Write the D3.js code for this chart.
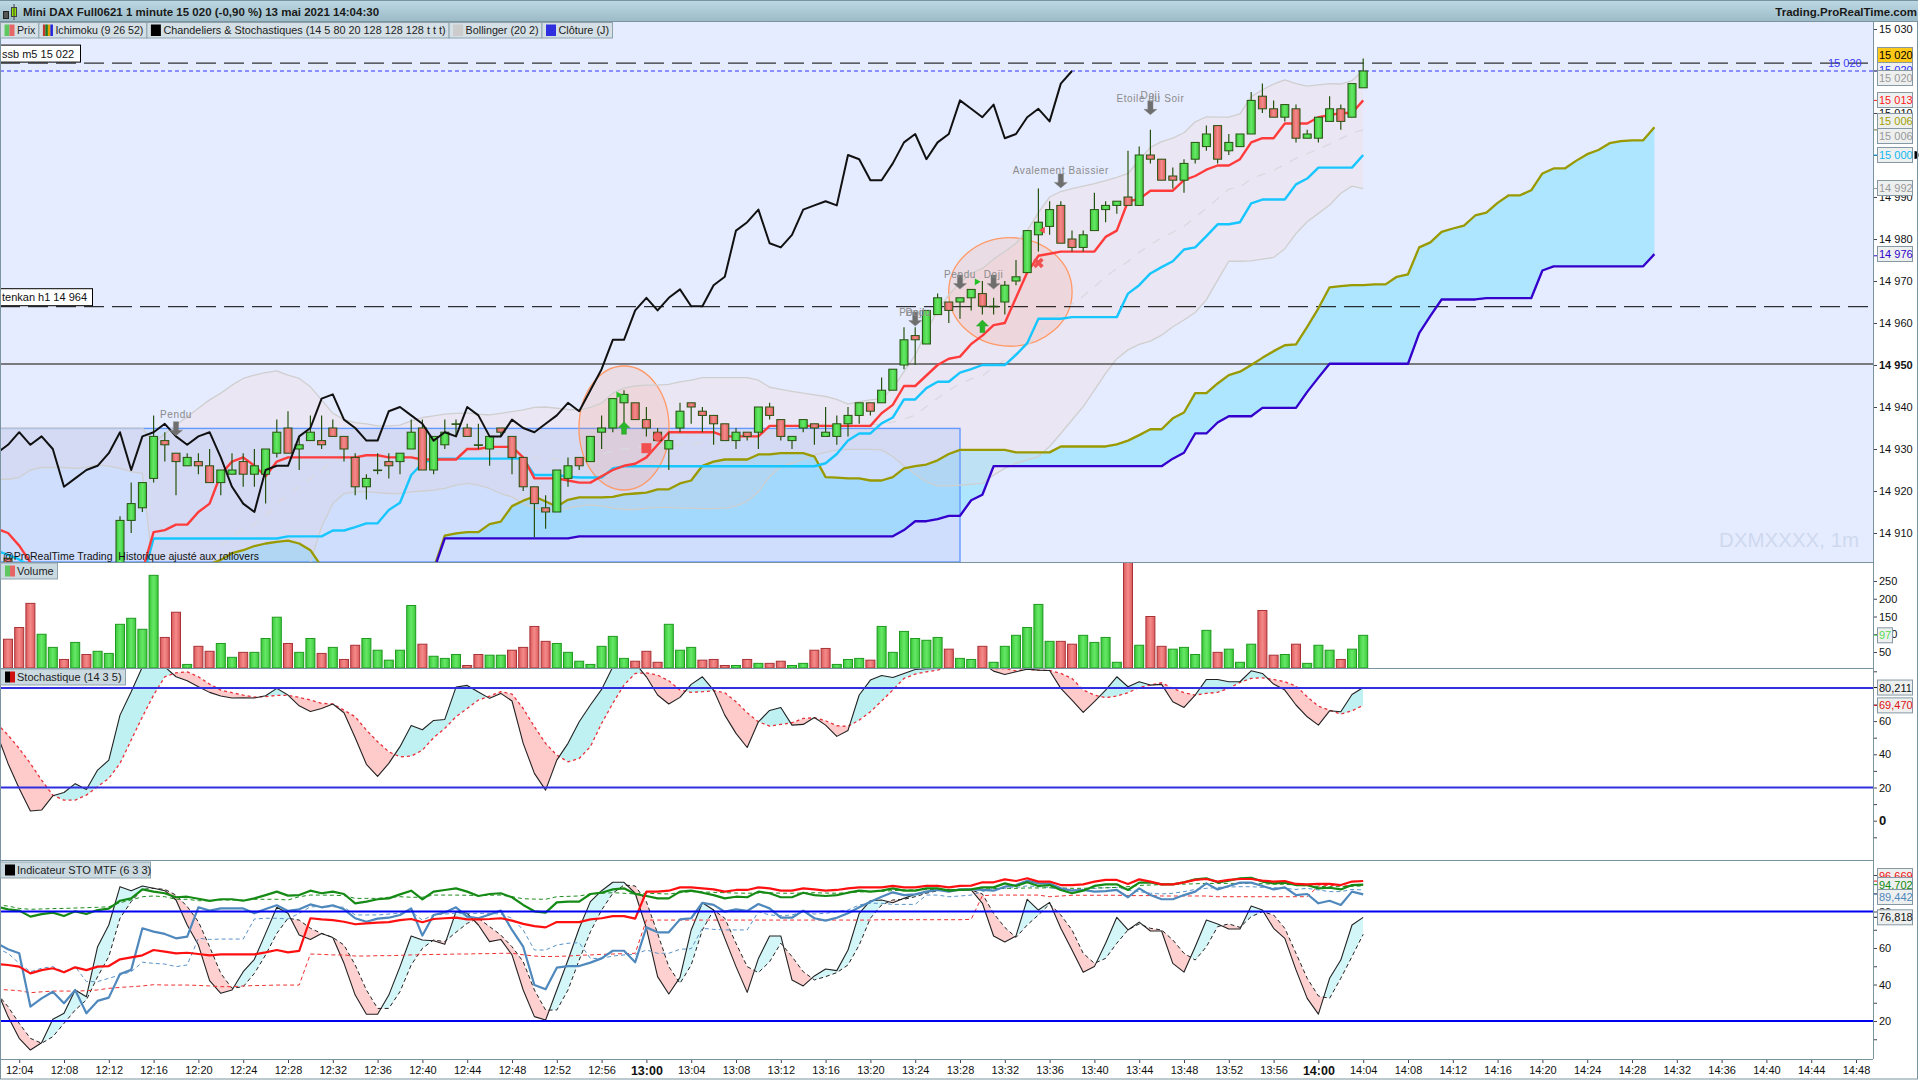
<!DOCTYPE html>
<html>
<head>
<meta charset="utf-8">
<title>Mini DAX Full0621</title>
<script src="https://cdnjs.cloudflare.com/ajax/libs/d3/7.8.5/d3.min.js"></script>
<style>
  html, body { margin: 0; padding: 0; background: #fff; overflow: hidden; }
  svg { display: block; font-family: "Liberation Sans", Arial, sans-serif; }
  .axis path { display: none; }
  .axis line { stroke: #445; }
  .axis text { fill: #111; font-size: 11px; font-family: "Liberation Sans", Arial, sans-serif; }
</style>
</head>
<body>
<script>
// all series are indexed by minute of day, first value given by the *Start constant
const candleStart = 723; // 12:03
const lineStart = 722; // 12:02
const cloudStart = 741; // 12:21

const candleOpen = [14904,null,null,null,null,null,null,null,null,null,
  14900,14913,14916,14923,14932,14929,14926,14927,14926,14922,14924,14927,14924,14924,14929,14935,14930,14932,14932,14935,14933,14928,14921,14925,14927,14927,14930,14935,14925,14931,14936,14935,14931,14930,14935,14933,14928,14921,14916,14915,14923,14928,14927,14934,14935,14941,14941,
  14937,14934,14930,14935,14941,14939,14938,14936,14932,14934,14934,14940,14937,14932,14935,14936,14933,14933,14936,14938,14941,14941,14944,14950,14957,14955,14962,14965,14965,14966,14967,14964,14965,14970,14972,14981,14983,14988,14980,14978,14982,14987,14988,14990,14988,15000,14999,14995,14994,14999,15002,15007,15001,15002,15005,15014,15011,15009,15011,15004,15004,15008,15011,15009,15016];
const candleHigh = [14904,null,null,null,null,null,null,null,null,null,
  14914,14922,14922,14938,14934,14929,14929,14929,14930,14925,14929,14929,14930,14930,14937,14939,14933,14938,14938,14937,14933,14929,14924,14929,14929,14929,14937,14937,14933,14937,14937,14936,14936,14933,14935,14933,14928,14921,14919,14925,14928,14928,14933,14938,14942,14944,14941,
  14940,14935,14934,14941,14941,14940,14938,14936,14935,14934,14940,14941,14937,14933,14937,14936,14940,14938,14940,14941,14941,14947,14949,14959,14959,14963,14967,14965,14966,14968,14970,14966,14970,14975,14982,14992,14989,14989,14982,14982,14991,14989,14989,15001,15002,15006,14999,14997,14999,15003,15007,15007,15005,15005,15015,15017,15013,15012,15012,15006,15009,15014,15012,15017,15023];
const candleLow = [14899,null,null,null,null,null,null,null,null,null,
  14899,14910,14915,14922,14927,14919,14926,14924,14922,14919,14924,14921,14921,14917,14928,14929,14925,14932,14930,14933,14927,14919,14918,14924,14923,14924,14930,14925,14924,14930,14933,14933,14930,14926,14933,14924,14920,14909,14911,14915,14921,14925,14927,14930,14934,14935,14937,
  14933,14932,14925,14934,14936,14934,14931,14932,14930,14932,14930,14937,14932,14930,14934,14931,14933,14931,14933,14936,14938,14941,14944,14949,14950,14955,14962,14960,14961,14963,14962,14962,14962,14969,14972,14977,14981,14979,14977,14977,14982,14984,14986,14988,14988,14998,14994,14992,14991,14998,15001,14998,15000,15002,15005,15010,15009,15008,15003,15004,15003,15008,15006,15009,15016];
const candleClose = [14899,null,null,null,null,null,null,null,null,null,
  14913,14917,14922,14933,14931,14927,14928,14926,14922,14925,14925,14924,14926,14930,14934,14929,14931,14934,14931,14933,14930,14921,14923,14925,14926,14929,14934,14925,14933,14934,14936,14933,14931,14933,14934,14928,14921,14917,14915,14925,14926,14926,14933,14935,14942,14943,14937,
  14935,14932,14932,14939,14940,14938,14936,14932,14934,14933,14940,14938,14933,14933,14937,14935,14934,14936,14938,14941,14939,14944,14949,14956,14956,14963,14966,14963,14966,14968,14964,14964,14969,14971,14982,14984,14987,14979,14978,14981,14987,14988,14989,14988,15000,14999,14994,14994,14998,15003,15005,14999,15003,15005,15013,15011,15009,15012,15004,15005,15009,15011,15008,15017,15020];

const chikouValues = [14929,14931,14934,14931,14933,14930,14921,14923,14925,14926,14929,14934,14925,14933,14934,14936,14933,14931,14933,14934,14928,14921,14917,14915,14925,14926,14926,14933,14935,14942,14943,14937,14935,14932,14932,14939,14940,14938,14936,14932,14934,14933,14940,14938,14933,14933,14937,14935,14934,14936,14938,14941,14939,14944,14949,14956,14956,14963,14966,14963,14966,14968,14964,14964,14969,14971,14982,14984,14987,14979,14978,14981,14987,14988,14989,14988,15000,14999,14994,14994,14998,15003,15005,14999,15003,15005,15013,15011,15009,15012,15004,15005,15009,15011,15008,15017,15020];

const tenkanValues = [14911,14910,14907,14903,14900,14899,14898,14897,14897,14897,14898,14899,14900,14901,14910.2,14910.7,14912,14912,14915,14917,14924,14927,14928,14926,14923.5,14927,14928,14928,14928,14928,14928,14928,14928,14928.5,14928.5,14928,14928,14928,14927.5,14927.5,14927.5,14927.5,14930,14930,14930.5,14930.5,14930.5,14928,14923,14923,14923,14922.5,14922,14922,14923.5,14925,14926,14926.5,14928,14931,14934,14934,14934,14934,14934,14933,14933,14933,14933,14935.5,14935.5,14935.5,14935.5,14935.5,14935.5,14935.5,14935.5,14935.5,14935.5,14938.5,14940.5,14945,14945,14947.5,14950,14951.5,14952,14955,14957,14959.5,14960,14966,14972,14976,14976.5,14977,14977,14977,14977,14980.5,14982,14989,14989.5,14991.5,14991.5,14991.5,14994,14995,14996.5,14997.5,14997.5,14999,15003,15004,15004,15007.5,15007.5,15007.5,15009,15009.5,15010,15010,15013];
const kijunValues = [14905.8,14904.8,14903.7,14902,14899,14899,14899,14899,14899,14899,14899,14899,14899,14899,14908.7,14908.7,14908.7,14908.7,14908.7,14908.7,14908.7,14908.7,14908.7,14908.7,14908.7,14908.7,14909.2,14909.2,14909.2,14909.2,14910.6,14910.6,14911.4,14912.3,14912.3,14915.5,14917.2,14923.8,14926.6,14927.7,14927.7,14927.7,14927.7,14927.7,14927.7,14927.7,14927.7,14927.7,14923.8,14923.8,14923.8,14923.4,14923.2,14923.2,14923.2,14925.4,14925.9,14925.9,14925.9,14925.9,14925.9,14925.9,14925.9,14925.9,14925.9,14925.9,14925.9,14925.9,14925.9,14925.9,14925.9,14925.9,14925.9,14925.9,14926.6,14928.8,14932,14933.7,14933.7,14936.1,14937.5,14941.8,14941.8,14944.5,14946,14946,14948.2,14949,14950,14950,14950,14952.4,14955.2,14961,14961,14961,14961.4,14961.4,14961.4,14961.4,14961.4,14967,14969,14971.8,14973.3,14974.7,14977.5,14978,14980.7,14983.5,14983.5,14984,14988.5,14989.4,14989.4,14989.4,14993,14994.4,14997,14997,14997,14997,15000];
const senkouAValues = [14902.6,14903.6,14905.2,14905.9,14906.9,14907.5,14907.9,14908.2,14907.5,14905.9,14902,14899,14899,14899,14899,14899,14899,14899,14899,14899,14901.5,14909.4,14909.9,14910.2,14910.2,14912.1,14912.7,14916.4,14917.7,14918.7,14917.5,14916.3,14917.9,14918.5,14918.5,14918.5,14918.6,14919.2,14919.4,14919.6,14920.4,14920.4,14921.8,14922.5,14926,14927,14927.5,14927.5,14927.5,14928.7,14928.7,14929,14929,14929,14928.2,14923.3,14923.2,14923,14923,14922.5,14922.5,14923.3,14925.4,14925.9,14926.3,14927.3,14928.8,14929.8,14929.8,14929.8,14929.8,14929.8,14929.2,14929.2,14929.2,14929.2,14930.6,14930.6,14930.6,14930.6,14930.6,14931.1,14932,14933.3,14934.7,14934.7,14937.3,14938.7,14943.3,14943.3,14945.6,14947.6,14948.4,14950,14951.7,14953.3,14954.7,14954.9,14959.1,14963.5,14968.5,14968.8,14969,14969,14969.2,14969.2,14971,14971.6,14978,14979.2,14981.7,14982.5,14983.2,14985.6,14986.3,14988.6,14990.4,14990.4,14991.6,14995.6,14996.8,14996.8,14998.6,15000.2,15001.2,15002.8,15003.3,15003.5,15003.5,15006.6];
const senkouBValues = [14895,14895,14895,14895,14895,14895,14895,14895,14895,14895,14895,14895,14895,14895,14895,14895,14895,14895,14895,14895,14901,14908.7,14908.7,14908.7,14908.7,14908.7,14908.7,14908.7,14908.7,14908.7,14908.7,14908.7,14908.7,14909.2,14909.2,14909.2,14909.2,14909.2,14909.2,14909.2,14909.2,14909.2,14909.2,14909.2,14909.2,14909.2,14909.2,14909.2,14909.2,14909.2,14909.2,14909.2,14909.2,14909.2,14909.2,14909.2,14909.2,14909.2,14909.2,14909.2,14909.2,14909.2,14910.7,14912.8,14912.8,14913.3,14914.1,14914.1,14917.8,14919.1,14925.9,14925.9,14925.9,14925.9,14925.9,14925.9,14925.9,14925.9,14925.9,14925.9,14925.9,14925.9,14925.9,14925.9,14925.9,14925.9,14927.7,14929.1,14933.7,14933.7,14936.3,14937.8,14937.8,14937.8,14939.8,14939.8,14939.8,14939.8,14943.6,14947,14950.3,14950.3,14950.3,14950.3,14950.3,14950.3,14950.3,14950.3,14957.6,14961.7,14965.6,14965.6,14965.6,14965.6,14965.9,14965.9,14965.9,14965.9,14965.9,14972.5,14973.5,14973.5,14973.5,14973.5,14973.5,14973.5,14973.5,14973.5,14973.5,14976.4];

const bollUpper = [14935,14935,14935,14935,14935,14935,14935,14935,14935,14935,14935,14935,14935,14935,14931.5,14933.6,14935.7,14937.7,14939.7,14941.7,14943.3,14945.2,14946.8,14947.6,14948.2,14948.6,14947.6,14946.8,14944.8,14941.7,14938.5,14937,14936.3,14936,14935.5,14935.5,14935.7,14936.7,14937.5,14937.9,14938.3,14938.5,14938.6,14938.3,14938.1,14938.5,14938.9,14939.3,14939.9,14940,14939.7,14939.4,14939.3,14939.9,14940.9,14943.3,14944.5,14945,14945.2,14945.2,14945.4,14946,14946.4,14947,14947,14947,14947,14947,14946.4,14944.7,14944.2,14943.7,14943.3,14942.9,14942.5,14941.8,14940.7,14941.3,14941.7,14942,14944.5,14948.4,14952.4,14958,14963,14966.7,14969.6,14971.8,14973,14975.2,14977,14979,14982,14986.3,14990,14991.3,14992,14992.6,14993.2,14993.9,14994.7,14995.6,14998.8,15001.8,15003.2,15004,15005.3,15007.9,15009.1,15009,15009,15009.8,15013.9,15015.5,15016.9,15017.9,15017,15016.4,15016.7,15017,15016.9,15017.7,15020.2];
const bollLower = [14922.8,14922.8,14923.2,14925,14925.6,14925.6,14925.6,14925.4,14925.6,14926.2,14925.9,14925.4,14924.6,14924.2,14900,14899,14898,14898,14898,14898,14898,14898,14898,14898,14898,14898,14898,14898,14903,14911.5,14917,14919.4,14919.8,14919.8,14919.6,14919.4,14919.4,14919.8,14920,14920.2,14920.6,14921.4,14921.8,14921.4,14920.6,14919.4,14918.6,14917,14915.9,14915.5,14915.3,14915.9,14916.4,14916.7,14916.4,14915.9,14915.6,14915.6,14915.9,14916.1,14916.1,14915.9,14915.9,14915.8,14915.8,14915.9,14916.4,14917.5,14919.8,14923.4,14925.8,14926.6,14927.6,14928.6,14929.2,14929.8,14929.9,14929.9,14929.9,14929.8,14928.2,14926,14924,14922.2,14921.2,14921.2,14921.4,14921.6,14921.8,14923.8,14925.4,14926.6,14927.4,14928.2,14930.6,14933.7,14936.9,14940.1,14944,14948,14951.5,14953.6,14954.9,14955.7,14957.1,14959.1,14960.7,14962.5,14965.5,14970.2,14974.7,14974.7,14974.8,14975.2,14975.6,14977.7,14981.3,14984.1,14986.1,14988.1,14990.9,14992.6,14992];
const bollMidStart = 742; // 12:22
const bollMid = [14907,14909,14911,14912,14914,14917,14919,14921,14923,14925,14927,14928,14928,14928,14928,14928,14928,14928.5,14929,14929,14929.5,14930,14930.2,14929.9,14929.4,14929,14928.8,14928.2,14927.9,14927.8,14927.5,14927.6,14927.9,14928.3,14928.7,14929.6,14930,14930.3,14930.6,14930.7,14930.8,14931,14931.2,14931.4,14931.4,14931.5,14931.7,14932.3,14933.1,14934,14935,14935.2,14935.5,14935.8,14935.9,14935.8,14935.3,14935.6,14935.8,14935.9,14936.4,14937.2,14938,14940.1,14942.1,14944,14945.5,14946.7,14947.4,14949.5,14951.2,14952.8,14954.7,14957.2,14960.3,14962.5,14964.5,14966.4,14968.6,14971,14973,14974.6,14976.8,14978.7,14980.2,14981.6,14983,14985.2,14987.3,14989.6,14991.9,14992.3,14994.4,14995.4,14996.3,14997.8,14999.2,15000.3,15001.4,15002.6,15003.9,15005.2,15006];

const volumeValues = [86,119,187,100,63,29,77,43,52,46,128,145,114,266,91,162,15,66,52,74,35,49,49,88,148,74,49,88,46,63,29,69,88,55,27,55,181,72,38,32,43,12,43,41,41,55,63,122,80,74,49,24,15,66,94,32,24,52,21,128,55,63,
  27,29,12,12,29,18,18,24,12,18,55,60,15,29,32,27,122,49,108,88,83,91,58,32,29,66,21,66,97,119,184,80,80,72,97,77,91,21,320,69,150,66,58,63,43,111,49,58,21,72,167,41,43,72,18,69,55,29,58,97];
// G up bar, R down bar
const volumeColors = 'RRRGGRGRGGGGGG' + 'RRGRRGGRGGGRGGR' + 'GRRGGGGGRGGGRRGG' + 'RRRRGGGGGGGRRRGGG' +
  'RRRGRGRRGGRRGGGRGGGGGGRGGRGGGGGGRRGGGGRGRRGGGGRGGGRRGRGGGRGG';

const stochK = [52.6,34.5,19.4,5.8,6.4,15,17,22.3,18.8,30.5,36.5,63.6,77.7,92.7,96.8,92.7,86.7,84.3,80.7,77.3,75.1,73.9,74.1,73.9,75.3,79.7,75.7,69.2,65.8,67.6,70.3,65,50,34,26.7,34.5,44.6,57.4,54.8,60.4,61,80.5,81.5,77.5,73.7,76.7,72.1,46.6,28.5,18.4,36.5,46.6,59.6,69.7,79.1,92.7,96.8,94.8,86.7,75.7,70.3,74.3,82.1,86.7,78.7,63.6,52.6,44.1,59.6,66.4,68.2,57.6,58,62.2,57.6,50.8,54.4,75.7,84.7,87.5,86.3,88.7,91.1,91.5,91.7,94.8,95.8,95.8,94.8,90.1,88.1,89.7,91.3,90.7,90.5,79.7,72.7,65.2,71.7,78.7,86.7,80.7,83.7,81.7,82.1,71.7,68.2,75.7,85.1,85.1,83.7,83.7,90.3,88.7,82.3,78.7,69.7,62.6,57.6,66.2,65.6,76,80.2];
const stochD = [58.6,51.6,43.5,34.5,24.5,15.4,12.4,12.4,15.4,20.5,25.5,34.5,48.6,62.6,75.7,86.7,89.1,89.7,86.7,82.3,78.7,77.1,75.7,74.5,74.7,75.5,75.5,74.3,72.7,70.7,70.3,66.6,62.6,54.6,47.6,41.5,38.5,38.9,42.5,50,55.6,62.6,67.6,72.7,75.1,77.7,76.3,67.6,56.6,46.6,39.5,35.5,37.5,44.6,58.6,70.7,81.7,88.7,89.1,87.7,84.3,78.7,77.3,77.7,78.3,77.1,71.7,65,59.6,57,58,59,61.6,62,60.2,57.2,56.8,60.6,65.6,72.1,78.7,85.7,88.3,89.7,90.7,92.7,94.3,95.2,93.7,91.7,91.7,90.3,91.3,90.7,90.5,88.7,85.7,78.7,75.7,74.1,75.1,77.1,80.3,81.7,83.1,79.7,77.1,75.7,76.7,77.3,79.7,83.3,85.7,86.1,85.1,83.7,81.1,74.7,69,66.6,64.2,66.2,69.5];

const mtfK = [37,22.4,10.5,4.1,8.1,20.9,24.2,37,33.3,60.7,72.6,93.6,91.4,94,92.7,91.4,86.3,72.6,61.6,42.1,35.2,37,47,53.8,68,82.3,79,67.1,64.7,68,65.8,51.6,34.2,23.7,23.7,34.2,49.8,66.6,64.4,64,62,79.9,79,72.6,63.5,64.7,56.2,37,22.4,20.5,37,53.4,70.8,85.4,91.4,96,96,90,70.8,44.3,34.8,43.9,69.9,84.8,80.8,65.3,49.8,35.7,54.3,66.6,66.6,42.5,39.2,44.7,48.5,47.6,58.9,79,85.9,86.3,84.8,87.2,89.4,90.9,91.8,91.8,91.8,91.8,84.5,66.6,63.3,66.6,86.7,80.8,85,70.8,58.9,46.7,49.8,62.6,76.8,69.9,74.2,69.3,69.3,51.6,46.8,60.7,75.3,73.2,70.4,70.4,83,80.8,70.8,65.3,48,32.4,23.8,43.4,53.4,72.6,76.8];
const mtfD = [35.2,27.9,18.7,10.5,7.8,11.4,18.7,26,31.5,44.3,55.3,76.3,85.4,92.1,92.7,92.1,89,82.7,74.4,60.7,46.1,37.9,38.8,46.1,56.2,68,76.3,75.3,70.8,68,65.8,61.6,50.7,37,26.9,26.9,36.1,50.7,59.8,64.4,63.5,68.6,73.5,76.3,71.7,67.1,60.7,52.5,37,26,26,37,53.4,68.9,80.8,90,94.5,94,85.4,68,49.8,40.6,50.7,69.9,80.8,76.3,62.6,49.8,46.5,52.5,62.6,55.3,47,42.5,44.3,46.5,50.7,61.6,76.3,83.6,86.3,86.7,88.1,90,91.4,91.8,91.8,91.8,89.6,79,71.3,65.8,72.6,78.1,84.1,78.1,69.9,57.1,51.6,54.3,62.6,69.9,73.2,70.8,69.9,64.4,57.1,53.4,60.7,71.7,73.2,71.3,77.2,79.9,78.1,70.8,57.1,43.4,33.7,32.4,43.4,55.3,67.5];
const mtfSteel = [62.6,59.3,57.1,27.9,32.4,36,29.7,37,24.2,31,32.8,45.8,48,70.8,69,67.7,65.3,66.2,82.3,80.5,81.7,81.7,81.7,79,81.4,83.4,80.3,81.2,83.9,82.3,83.4,81.2,76.3,74.4,76.1,76.6,78.1,81.7,66.8,78.1,79.5,82.3,77.2,76.3,78.4,80.5,69.9,60.7,39.7,37.4,49.2,50.1,50.1,52,54.3,58.5,58.5,52.2,71.3,68.6,68.6,75.7,76.3,84.8,83.6,79.9,81.2,80.3,84.1,81.7,76.6,76.6,80.5,76.3,75,76.6,79,82.3,85.4,88.1,90.5,89,89.4,90.9,91.8,90.9,92.1,92.1,91.8,91.4,93.6,94.5,96.9,95.4,95.4,92.7,91.4,91.8,90.9,91.2,91.8,87.8,92.7,89,86.7,86.7,89,90.9,95.4,92.1,94,95.8,95.8,94,92.1,93.2,89,89.6,84.5,85.9,83.6,90.9,89.4];
const mtfSteelDash = [59.8,57.1,51.6,47,48.9,49.8,47,49.8,41.6,41.6,43.4,45.2,47,52.2,51.6,51.2,49.8,50.7,65.3,64.7,64.9,64.9,64.9,75.9,76.3,76.3,75.9,79,82.6,82.6,82.6,82.3,78.1,78.1,78.1,78.6,79,79.9,75.3,78.1,78.6,79,79,79,79,78.6,76.3,69.9,58.9,58.9,61.6,62.6,62.9,54.3,54.3,55.6,56.2,56.5,58.9,57.1,57.1,59.3,59.6,70.8,70.2,69.9,69.9,69.9,79.9,78.1,77.7,78.1,79.9,78.6,79,79.9,80.8,83.6,84.5,84.5,83.9,83.9,83.9,89,89,88.1,88.5,89,90.9,92.7,92.7,93.2,94,93.6,93.2,91.8,91.8,92.1,92.7,93,93.2,91.8,90.9,90,89.6,90,90.9,92.1,92.7,93.2,93.4,93.6,93.6,93.2,93,92.7,92.1,92.7,91.8,90.9,90.9,92.1,91.8];
const mtfRed = [51.2,50.7,49.8,46.1,47.9,48.9,46.7,49.4,47.9,49.8,50.1,53.8,54.9,56,58.9,58,57.1,57.4,56.7,56,56.5,56.5,56.5,56.5,57.6,58.9,57.6,58.4,76.3,75.7,75.3,74.4,73,73.5,73.9,74.2,75.3,75.9,74.1,75.9,76.3,76.6,75.7,75.7,75.9,76.3,75,73.2,72,71.3,74.2,74.2,74.2,75.7,76.3,77.5,77.5,76.1,90.9,90.9,91.4,93.2,93.2,92.7,92.1,90.9,91.8,91.8,93.2,92.7,91.4,91.4,92.7,92.1,91.4,91.8,92.7,93.2,93.2,93.2,94,93.2,93.2,94,94,93.2,94,94.2,96,96,97.6,96.7,98.2,96.4,96.4,94.5,94.5,94.9,96.4,97.3,97.3,95.1,97.6,96.4,94.9,94.9,96,97.3,97.8,96.4,97.3,97.8,97.8,96.9,96.4,96.7,95.1,94.9,95.1,95.1,94.5,96.4,96.7];
const mtfRedDash = [37.4,37,36.6,35.5,36,36.4,36.4,36.4,36.6,37,37.9,38.4,38.8,39.2,39.9,39.7,39.7,39.7,39.5,39.2,38.8,38.8,39.2,39.4,39.5,39.7,39.7,39.7,56.7,56.5,56.2,56.2,55.6,55.6,55.8,55.8,56,56.2,56.3,56.5,56.5,56.7,56.7,56.9,56.9,57.1,57.1,56.3,55.6,55.3,55.4,55.6,56,56.2,56.5,56.7,56.9,57.1,75.3,75.3,75.3,75.3,75.3,75.3,75.3,75.3,75.3,75.3,75.3,75.3,75.3,75.3,75.3,75.3,75.3,75.3,75.3,75.3,75.3,75.5,75.5,75.5,75.5,75.5,75.5,75.5,75.5,75.7,88.7,89,89,89,89,89,88.1,88.5,88.9,88.9,88.9,88.9,88.9,88.7,88.7,88.7,88.5,88.5,88.5,88.5,88.5,88.1,88.1,88.1,88.1,88.1,88.1,88.1,88.1,88.1,94,94.3,94.3,94.3,94.3];
const mtfGreen = [82.7,81.2,80.5,77.2,78.6,79.4,77.5,80.1,78.6,80.8,81.6,85.9,87.2,92.1,90.9,90,87.8,88.1,87,85.8,86.7,86.7,85.9,87.2,89,90.9,88.7,89,91.4,90,90.9,89.6,84.5,85.4,86.7,87.2,89.4,91.4,86.7,90.9,91.8,92.7,90.9,88.5,89.6,90,87.8,83.6,80.1,79.4,85,85.4,85.4,89.6,90.3,92.1,92.7,89.6,88.5,87.2,87.2,90.9,91.4,90.3,89,87.2,88.1,87.8,90.9,90,87.8,87.8,90.3,89,88.5,89,90.3,91.4,90.9,91.4,92.7,91.4,91.4,92.7,92.7,91.4,91.8,92.1,93.2,93.2,95.4,94,96,94,94.5,91.8,90,91.4,94,94.9,94.9,91.8,95.8,96,94.9,94.9,96,97.6,98.2,96,96.9,98.2,98.4,96.4,95.4,95.8,94.5,94.5,92.7,93,92.1,94.5,94.7];
const mtfGreenDash = [83.6,83,81.7,81.2,81.4,81.6,81.7,81.9,82.1,82.3,82.6,84.8,86.3,88.1,88.5,88.1,86.7,86.7,85.9,85.9,86.3,86.3,86.3,86.7,86.7,86.7,86.3,88.1,89,89,88.9,88.7,87.2,87.2,87.2,87.8,88.1,87.8,87.8,89,89,89,88.9,88.7,88.9,89,88.1,87,86.8,86.7,88.1,88.3,88.5,89.6,90,90.3,90,89.6,90,89.8,89.6,90.3,90.9,90.7,90.5,90.3,90.1,90,90.1,90.3,90,90,90.1,90.3,90.1,90,90.3,90.7,90.9,91.1,91.4,91.8,91.8,92,92.1,92.1,92.1,92.1,92.3,92.5,92.7,92.7,92.9,92.9,93,92.9,92.7,92.7,92.9,93,93.2,93.6,94.3,94.5,94.7,94.9,95,95.2,95.4,95.4,95.4,95.4,95.4,95.2,95,94.9,94.5,94,93.8,93.6,93.6,93.8,94];

const priceTicks = [15030,15010,15000,14990,14980,14970,14960,14950,14940,14930,14920,14910];
const volumeTicks = [250,200,150,100,50];
const stochTicks = [60,40,20,0];
const stochMinor = [90,70,50,30,10,-10];
const mtfTicks = [80,60,40,20];
const mtfMinor = [100,90,70,50,30,10];
const timeTicks = d3.range(724, 889, 4); // 12:04 to 14:48 every 4 minutes

const legendItems = [
  { label: 'Prix', end: 38.4, swatch: ['#5fc75f', '#e66565'] },
  { label: 'Ichimoku (9 26 52)', end: 146.4, swatch: ['#c0392b', '#1a7a1a', '#e0a000', '#2020dd'] },
  { label: 'Chandeliers & Stochastiques (14 5 80 20 128 128 128 t t t)', end: 448.6, swatch: ['#000'] },
  { label: 'Bollinger (20 2)', end: 541.5, swatch: ['#cccccc'] },
  { label: 'Clôture (J)', end: 612, swatch: ['#2f2fe0'] }
];
const patternLabels = [
  { t: 738, p: 14936.5, labels: [['Pendu', -4]] },
  { t: 804, p: 14962.6, labels: [['Pendu', 4], ['Doji', 4]] },
  { t: 808, p: 14971.4, labels: [['Pendu', 2.7]] },
  { t: 811, p: 14971.4, labels: [['Doji', 2.7]] },
  { t: 817, p: 14995.5, labels: [['Avalement Baissier', 0]] },
  { t: 825, p: 15012.9, labels: [['Etoile du Soir', 1], ['Doji', -2]] }
];
const upArrows = [{ t: 778, p: 14936.5 }, { t: 810, p: 14960.7 }];
const zones = [
  { t: 778, p: 14935, rt: 4.02, rp: 14.76 },
  { t: 812.5, p: 14967.4, rt: 5.51, rp: 12.93 }
];
const priceTags = [
  { v: 15020, text: '15 020', color: '#000', bg: '#ffc91a', y: 55 },
  { v: 15020, text: '15 020', color: '#3030ff', bg: '#eef0f0', y: 70 },
  { v: 15020, text: '15 020', color: '#999', bg: '#eef0f0', y: 78 },
  { v: 15013, text: '15 013', color: '#ff2020', bg: '#eef0f0', y: 100 },
  { v: 15006, text: '15 006', color: '#a0a000', bg: '#eef0f0', y: 121 },
  { v: 15006, text: '15 006', color: '#999', bg: '#eef0f0', y: 136 },
  { v: 15000, text: '15 000', color: '#10b8f0', bg: '#eef0f0', y: 155 },
  { v: 14992, text: '14 992', color: '#999', bg: '#eef0f0', y: 188 },
  { v: 14976, text: '14 976', color: '#3000cc', bg: '#eef0f0', y: 254 }
];

const W = 1920, H = 1080;
const axisX = 1873;
const panels = {
  price: [22, 562],
  volume: [562, 668],
  stoch: [668, 860],
  mtf: [860, 1059]
};

const x = d3.scaleLinear().domain([724, 888]).range([19.2, 1856]);
const yPrice = d3.scaleLinear().domain([15030, 14910]).range([29, 533]);
const yVolume = d3.scaleLinear().domain([50, 250]).range([652, 581]);
const yStoch = d3.scaleLinear().domain([0, 60]).range([820.7, 721.1]);
const yMtf = d3.scaleLinear().domain([20, 60]).range([1021, 948]);

const fmtSpace = (v) => d3.format(',')(v).replace(',', ' ');
const fmtClock = (m) => d3.format('02')(Math.floor(m / 60)) + ':' + d3.format('02')(m % 60);
const toSeries = (start, values) => values.map((v, i) => ({ t: start + i, v }));

const svg = d3.select('body').append('svg').attr('width', W).attr('height', H);
const defs = svg.append('defs');

function barGradient(id, edge, mid) {
  const g = defs.append('linearGradient').attr('id', id);
  g.append('stop').attr('offset', '0%').attr('stop-color', edge);
  g.append('stop').attr('offset', '50%').attr('stop-color', mid);
  g.append('stop').attr('offset', '100%').attr('stop-color', edge);
}
barGradient('upFill', '#3cc83c', '#66e866');
barGradient('downFill', '#dc5c5c', '#f58a8a');

const titleGrad = defs.append('linearGradient').attr('id', 'titleFill').attr('x2', 0).attr('y2', 1);
titleGrad.append('stop').attr('offset', '0%').attr('stop-color', '#bcd9e4');
titleGrad.append('stop').attr('offset', '100%').attr('stop-color', '#9bbac6');

Object.entries(panels).forEach(([name, [y0, y1]]) => {
  defs.append('clipPath').attr('id', 'clip-' + name)
    .append('rect').attr('x', 1).attr('y', y0).attr('width', axisX - 1).attr('height', y1 - y0);
});

// backgrounds
svg.append('rect').attr('width', W).attr('height', H).attr('fill', '#fff');
svg.append('rect').attr('x', 0).attr('y', 22).attr('width', axisX).attr('height', 540).attr('fill', '#e6ecff');

// ---- price panel
const price = svg.append('g').attr('clip-path', 'url(#clip-price)');

const ssa = toSeries(cloudStart, senkouAValues);
const ssb = toSeries(cloudStart, senkouBValues);
price.append('path')
  .attr('fill', '#aee5ff')
  .attr('d', d3.area().x((d) => x(d.t)).y0((d, i) => yPrice(ssb[i].v)).y1((d) => yPrice(d.v))(ssa));

const upperBand = toSeries(lineStart, bollUpper);
const lowerBand = toSeries(lineStart, bollLower);
price.append('path')
  .attr('fill', 'rgb(255,210,200)').attr('fill-opacity', 0.2)
  .attr('d', d3.area().x((d) => x(d.t)).y0((d, i) => yPrice(lowerBand[i].v)).y1((d) => yPrice(d.v))(upperBand));

// zone rectangle, drawn in chart units
price.append('rect')
  .attr('x', 0).attr('y', yPrice(14934.9))
  .attr('width', x(808)).attr('height', 562 - yPrice(14934.9))
  .attr('fill', 'rgb(120,170,245)').attr('fill-opacity', 0.2)
  .attr('stroke', '#6699ff').attr('stroke-width', 1.4);

price.selectAll('ellipse').data(zones).join('ellipse')
  .attr('cx', (d) => x(d.t)).attr('cy', (d) => yPrice(d.p))
  .attr('rx', (d) => x(d.t + d.rt) - x(d.t))
  .attr('ry', (d) => yPrice(d.p - d.rp) - yPrice(d.p))
  .attr('fill', 'rgb(255,140,100)').attr('fill-opacity', 0.17)
  .attr('stroke', '#ff9966').attr('stroke-width', 1.3);

function linePath(group, start, values, yScale, color, width, dash, opacity) {
  return group.append('path')
    .attr('fill', 'none')
    .attr('stroke', color)
    .attr('stroke-width', width)
    .attr('stroke-dasharray', dash || null)
    .attr('stroke-opacity', opacity == null ? 1 : opacity)
    .attr('stroke-linejoin', 'round')
    .attr('d', d3.line().x((d) => x(d.t)).y((d) => yScale(d.v))(toSeries(start, values)));
}

linePath(price, lineStart, bollUpper, yPrice, '#cfcfcf', 1.3);
linePath(price, lineStart, bollLower, yPrice, '#cfcfcf', 1.3);
linePath(price, bollMidStart, bollMid, yPrice, '#d9d9de', 1.3, '9 9');

// horizontal levels
[[15022, '20 8', 1, '#000'], [14964, '20 8', 1, '#000']].forEach(([level, dash, width, color]) => {
  price.append('line').attr('x1', 0).attr('x2', axisX)
    .attr('y1', yPrice(level) + 0.5).attr('y2', yPrice(level) + 0.5)
    .attr('stroke', color).attr('stroke-width', width).attr('stroke-dasharray', dash);
});
price.append('line').attr('x1', 0).attr('x2', axisX)
  .attr('y1', yPrice(15020)).attr('y2', yPrice(15020))
  .attr('stroke', '#3030ff').attr('stroke-width', 1).attr('stroke-dasharray', '4 3');
price.append('line').attr('x1', 0).attr('x2', axisX)
  .attr('y1', yPrice(14950) - 1).attr('y2', yPrice(14950) - 1)
  .attr('stroke', '#555').attr('stroke-width', 1.4);

linePath(price, cloudStart, senkouAValues, yPrice, '#999900', 2.3);
linePath(price, cloudStart, senkouBValues, yPrice, '#3300cc', 2.3);
linePath(price, lineStart, kijunValues, yPrice, '#18c6ff', 2.4);
linePath(price, lineStart, tenkanValues, yPrice, '#ff3c3c', 2.4);

// candles
const candles = candleOpen.map((o, i) => ({
  t: candleStart + i, o, h: candleHigh[i], l: candleLow[i], c: candleClose[i]
})).filter((d) => d.o != null);

const candleG = price.append('g');
candleG.selectAll('line').data(candles).join('line')
  .attr('x1', (d) => x(d.t)).attr('x2', (d) => x(d.t))
  .attr('y1', (d) => yPrice(d.h)).attr('y2', (d) => yPrice(d.l))
  .attr('stroke', '#26520f').attr('stroke-width', 1.2);
candleG.selectAll('rect').data(candles).join('rect')
  .attr('x', (d) => x(d.t) - 4)
  .attr('y', (d) => yPrice(Math.max(d.o, d.c)))
  .attr('width', 8)
  .attr('height', (d) => Math.max(0.6, Math.abs(yPrice(d.o) - yPrice(d.c))))
  .attr('fill', (d) => (d.c >= d.o ? 'url(#upFill)' : 'url(#downFill)'))
  .attr('stroke', '#26520f').attr('stroke-width', 1);

linePath(price, lineStart, chikouValues, yPrice, '#111', 2);

// pattern labels with grey arrows
const arrowShape = 'M-2.6,0 H2.6 V8.5 H6.5 L0,14 L-6.5,8.5 H-2.6 Z';
const pattern = price.selectAll('.pattern').data(patternLabels).join('g')
  .attr('class', 'pattern')
  .attr('transform', (d) => `translate(${x(d.t)},${yPrice(d.p)})`);
pattern.append('path').attr('d', arrowShape).attr('fill', '#6e6e6e').attr('stroke', '#888').attr('stroke-width', 0.5);
pattern.each(function (d) {
  d.labels.forEach(([label, dy]) => {
    d3.select(this).append('text')
      .attr('y', dy)
      .attr('text-anchor', 'middle')
      .attr('font-size', 10).attr('letter-spacing', 0.6).attr('fill', '#8a8a8a')
      .text(label);
  });
});

price.selectAll('.up-arrow').data(upArrows).join('path')
  .attr('class', 'up-arrow')
  .attr('transform', (d) => `translate(${x(d.t)},${yPrice(d.p)})`)
  .attr('d', 'M0,0 L6,6 H2.4 V12.5 H-2.4 V6 H-6 Z')
  .attr('fill', '#2ab52a').attr('stroke', '#2a9a2a').attr('stroke-width', 0.5);

// signal marks
price.append('rect')
  .attr('x', x(780) - 5).attr('y', yPrice(14930.2) - 5).attr('width', 10).attr('height', 10)
  .attr('fill', '#f25050');
price.append('path')
  .attr('transform', `translate(${x(781)},${yPrice(14932.9)})`)
  .attr('d', d3.symbol().type(d3.symbolCircle).size(60)())
  .attr('fill', '#f06060').attr('stroke', '#d03030').attr('stroke-width', 0.6);
price.append('path')
  .attr('transform', `translate(${x(815)},${yPrice(14974.3)}) rotate(45)`)
  .attr('d', d3.symbol().type(d3.symbolCross).size(70)())
  .attr('fill', '#f05050');
[[777.5, 14942.9, 90, '#22c022'], [809.5, 14969.8, 90, '#22c022'], [815.4, 14982.1, -90, '#f05050']].forEach(([t, p, rot, color]) => {
  price.append('path')
    .attr('transform', `translate(${x(t)},${yPrice(p)}) rotate(${rot})`)
    .attr('d', d3.symbol().type(d3.symbolTriangle).size(20)())
    .attr('fill', color);
});

// level tags and texts on the price panel
function levelTag(level, text, width) {
  const g = svg.append('g');
  g.append('rect').attr('x', 0.5).attr('y', yPrice(level) - 17.5).attr('width', width).attr('height', 17)
    .attr('fill', '#fff').attr('stroke', '#000');
  g.append('text').attr('x', 2).attr('y', yPrice(level) - 5).attr('font-size', 11).attr('fill', '#111').text(text);
}
levelTag(15022, 'ssb m5 15 022', 80);
levelTag(14964, 'tenkan h1 14 964', 92);

svg.append('text').attr('x', 1828).attr('y', 67).attr('font-size', 11).attr('fill', '#3a3aff').text('15 020');
svg.append('text').attr('x', 1719).attr('y', 547).attr('font-size', 20.5).attr('fill', '#ced9ef').text('DXMXXXX, 1m');
svg.append('text').attr('x', 3).attr('y', 560).attr('font-size', 10.5).attr('fill', '#111')
  .style('white-space', 'pre')
  .text('@ProRealTime Trading  Historique ajusté aux rollovers');

// ---- volume panel
const volume = svg.append('g').attr('clip-path', 'url(#clip-volume)');
const volumeBars = volumeValues.map((v, i) => ({ t: candleStart + i, v, dir: volumeColors[i] }));
volume.selectAll('rect').data(volumeBars).join('rect')
  .attr('x', (d) => x(d.t) - 4.5)
  .attr('y', (d) => yVolume(d.v))
  .attr('width', 9)
  .attr('height', (d) => Math.max(0, 668 - yVolume(d.v)))
  .attr('fill', (d) => (d.dir === 'G' ? 'url(#upFill)' : 'url(#downFill)'))
  .attr('stroke', (d) => (d.dir === 'G' ? '#1f9a1f' : '#a83238'))
  .attr('stroke-width', 1);

// ---- stochastic panels
function fillBetween(group, id, start, k, d, yScale, aboveColor, belowColor) {
  const kSeries = toSeries(start, k);
  const dSeries = toSeries(start, d);
  const band = d3.area().x((p) => x(p.t)).y0((p, i) => yScale(dSeries[i].v)).y1((p) => yScale(p.v))(kSeries);
  const [top, bottom] = [0, H];
  defs.append('clipPath').attr('id', id + '-above').append('path')
    .attr('d', d3.area().x((p) => x(p.t)).y0(top).y1((p) => yScale(p.v))(dSeries));
  defs.append('clipPath').attr('id', id + '-below').append('path')
    .attr('d', d3.area().x((p) => x(p.t)).y0(bottom).y1((p) => yScale(p.v))(dSeries));
  group.append('g').attr('clip-path', `url(#${id}-above)`).append('path').attr('d', band).attr('fill', aboveColor);
  group.append('g').attr('clip-path', `url(#${id}-below)`).append('path').attr('d', band).attr('fill', belowColor);
}

const stoch = svg.append('g').attr('clip-path', 'url(#clip-stoch)');
fillBetween(stoch, 'stochFill', lineStart, stochK, stochD, yStoch, '#bff1f3', '#ffcaca');
linePath(stoch, lineStart, stochD, yStoch, '#e8303a', 1.3, '3 3');
linePath(stoch, lineStart, stochK, yStoch, '#222', 1.1);
[80, 20].forEach((level) => {
  stoch.append('line').attr('x1', 0).attr('x2', axisX)
    .attr('y1', yStoch(level)).attr('y2', yStoch(level))
    .attr('stroke', '#2f2fe0').attr('stroke-width', 2);
});

const mtf = svg.append('g').attr('clip-path', 'url(#clip-mtf)');
fillBetween(mtf, 'mtfFill', lineStart, mtfK, mtfD, yMtf, '#d3f6f8', '#ffd0d0');
linePath(mtf, lineStart, mtfD, yMtf, '#222', 1, '4 3');
linePath(mtf, lineStart, mtfK, yMtf, '#222', 1.1);
linePath(mtf, lineStart, mtfSteelDash, yMtf, '#5b93c7', 1, '4 3');
linePath(mtf, lineStart, mtfRedDash, yMtf, '#f03030', 1, '4 3');
linePath(mtf, lineStart, mtfGreenDash, yMtf, '#1e8c1e', 1, '4 3');
linePath(mtf, lineStart, mtfSteel, yMtf, '#4f88bd', 2.2);
linePath(mtf, lineStart, mtfGreen, yMtf, '#158a15', 2.2);
linePath(mtf, lineStart, mtfRed, yMtf, '#ff1010', 2.2);
[80, 20].forEach((level) => {
  mtf.append('line').attr('x1', 0).attr('x2', axisX)
    .attr('y1', yMtf(level)).attr('y2', yMtf(level))
    .attr('stroke', '#0000f0').attr('stroke-width', 2);
});

// ---- axes
function rightAxis(scale, ticks, format) {
  const g = svg.append('g').attr('class', 'axis').attr('transform', `translate(${axisX},0)`)
    .call(d3.axisRight(scale).tickValues(ticks).tickSize(4).tickPadding(2).tickFormat(format));
  return g;
}
rightAxis(yPrice, priceTicks, fmtSpace).selectAll('.tick')
  .filter((d) => d === 14950).select('text').attr('font-weight', 'bold');
rightAxis(yVolume, volumeTicks, (d) => d);
rightAxis(yStoch, stochTicks, (d) => d).selectAll('.tick')
  .filter((d) => d === 0).select('text').attr('font-weight', 'bold').style('font-size', '13px');
rightAxis(yStoch, stochMinor, '');
rightAxis(yMtf, mtfTicks, (d) => d);
rightAxis(yMtf, mtfMinor, '');

const timeAxis = svg.append('g').attr('class', 'axis').attr('transform', 'translate(0,1059)')
  .call(d3.axisBottom(x).tickValues(timeTicks).tickSize(4).tickPadding(3).tickFormat(fmtClock));
timeAxis.selectAll('.tick').filter((d) => d % 60 === 0).select('text')
  .attr('font-weight', 'bold').style('font-size', '12.5px');

// value tags on the axis
function axisTag(text, color, bg, yCenter, width, tickScaleY) {
  const g = svg.append('g');
  if (tickScaleY != null) {
    g.append('line').attr('x1', axisX).attr('x2', axisX + 5).attr('y1', tickScaleY).attr('y2', tickScaleY).attr('stroke', color);
  }
  g.append('rect').attr('x', 1877.5).attr('y', yCenter - 7.5).attr('width', width).attr('height', 15)
    .attr('fill', bg).attr('stroke', '#8598a3').attr('stroke-width', 1);
  g.append('text').attr('x', 1879).attr('y', yCenter + 4).attr('font-size', 11).attr('fill', color).text(text);
}
priceTags.forEach((d) => axisTag(d.text, d.color, d.bg, d.y, 35, yPrice(d.v)));
axisTag('97', '#55dd55', '#eef0f0', yVolume(97), 15, yVolume(97));
axisTag('80,211', '#111', '#eef0f0', yStoch(80.211), 35, yStoch(80.211));
axisTag('69,470', '#e01010', '#eef0f0', yStoch(69.47), 35, yStoch(69.47));
axisTag('96,669', '#f01010', '#eef0f0', 876, 35, yMtf(96.669));
axisTag('94,702', '#0f8a0f', '#eef0f0', 885, 35, yMtf(94.702));
axisTag('89,442', '#4f88bd', '#eef0f0', 897, 35, yMtf(89.442));
axisTag('76,818', '#111', '#eef0f0', yMtf(76.818), 35, yMtf(76.818));

// small clock marker right of the last price
svg.append('path').attr('d', 'M1914.5,151 A4,4 0 0 1 1914.5,159 Z').attr('fill', '#000');

// ---- frames
const frame = '#7a93a0';
[562, 668, 860, 1059].forEach((y) => {
  svg.append('line').attr('x1', 0).attr('x2', axisX).attr('y1', y + 0.5).attr('y2', y + 0.5).attr('stroke', frame);
});
svg.append('line').attr('x1', axisX + 0.5).attr('x2', axisX + 0.5).attr('y1', 22).attr('y2', 1059).attr('stroke', frame);
svg.append('rect').attr('x', 0.5).attr('y', 0.5).attr('width', 1917).attr('height', 1078.5)
  .attr('fill', 'none').attr('stroke', frame);

// title bar
svg.append('rect').attr('x', 0).attr('y', 0).attr('width', 1918).attr('height', 22).attr('fill', 'url(#titleFill)');
svg.append('line').attr('x1', 0).attr('x2', 1918).attr('y1', 21.5).attr('y2', 21.5).attr('stroke', frame);
svg.append('line').attr('x1', 0).attr('x2', 1918).attr('y1', 0.5).attr('y2', 0.5).attr('stroke', frame);
svg.append('text').attr('x', 23).attr('y', 16).attr('font-size', 11.5).attr('font-weight', 'bold').attr('fill', '#1a1a1a')
  .text('Mini DAX Full0621 1 minute 15 020 (-0,90 %) 13 mai 2021 14:04:30');
svg.append('text').attr('x', 1917).attr('y', 16).attr('text-anchor', 'end').attr('font-size', 11.5).attr('font-weight', 'bold').attr('fill', '#1a1a1a')
  .text('Trading.ProRealTime.com');
// small candle logo
svg.append('rect').attr('x', 3.5).attr('y', 11.5).attr('width', 5).attr('height', 7).attr('fill', '#555').attr('stroke', '#222');
svg.append('rect').attr('x', 11.5).attr('y', 7.5).attr('width', 5).attr('height', 9).attr('fill', '#8ee000').attr('stroke', '#444');
svg.append('line').attr('x1', 14).attr('x2', 14).attr('y1', 4).attr('y2', 20).attr('stroke', '#444');

// legend row
let legendX = 0;
legendItems.forEach((item) => {
  svg.append('rect').attr('x', legendX + 0.5).attr('y', 22.5).attr('width', item.end - legendX).attr('height', 15.5)
    .attr('fill', '#d4e0e6').attr('stroke', '#8fa3ad');
  const swW = 10 / item.swatch.length;
  item.swatch.forEach((c, i) => {
    svg.append('rect').attr('x', legendX + 4.5 + i * swW).attr('y', 24.5).attr('width', swW).attr('height', 11.5).attr('fill', c);
  });
  svg.append('text').attr('x', legendX + 17).attr('y', 34).attr('font-size', 11).attr('fill', '#222')
    .attr('textLength', item.end - legendX - 20).attr('lengthAdjust', 'spacingAndGlyphs').text(item.label);
  legendX = item.end;
});

function panelTag(y, width, label, swatch) {
  svg.append('rect').attr('x', 0.5).attr('y', y + 0.5).attr('width', width).attr('height', 16)
    .attr('fill', '#cbdae1').attr('stroke', '#8fa3ad');
  const swW = 10 / swatch.length;
  swatch.forEach((c, i) => {
    svg.append('rect').attr('x', 5 + i * swW).attr('y', y + 3).attr('width', swW).attr('height', 11).attr('fill', c);
  });
  svg.append('text').attr('x', 17).attr('y', y + 12.5).attr('font-size', 11).attr('fill', '#222').text(label);
}
panelTag(562.5, 57, 'Volume', ['#5fc75f', '#e66565']);
panelTag(668.5, 125, 'Stochastique (14 3 5)', ['#000', '#d01010']);
panelTag(861.5, 150, 'Indicateur STO MTF (6 3 3)', ['#000']);
</script>
</body>
</html>
